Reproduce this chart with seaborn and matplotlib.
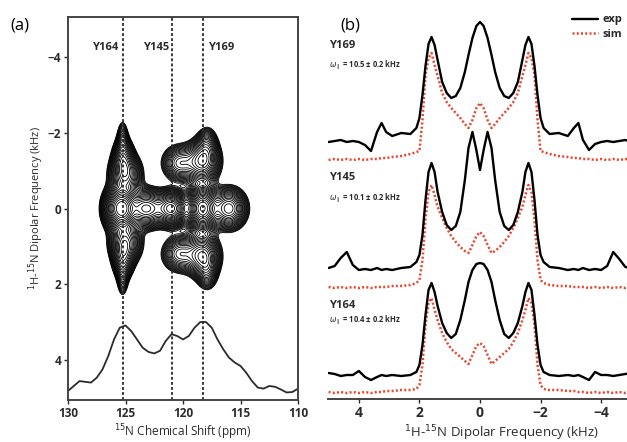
import numpy as np
import pandas as pd
import seaborn as sns
import matplotlib.pyplot as plt
from matplotlib.lines import Line2D

# ---------------- data ----------------

# (a) residue positions (ppm) and labels
residues = ['Y164', 'Y145', 'Y169']
res_ppm = [125.2, 121.0, 118.3]
label_ppm = [126.8, 122.3, 116.7]

# (a) contour peaks: ppm, kHz, amplitude, width ppm, width kHz
pk_ppm = [126.0, 125.2, 123.2, 121.0, 118.3, 116.0,
          125.0, 125.0, 125.2, 125.2, 125.25, 125.25,
          118.3, 118.3, 120.3, 120.3, 117.9, 117.9]
pk_khz = [0.0, 0.0, 0.0, 0.0, 0.0, 0.0,
          -0.9, 0.9, -1.35, 1.35, -1.85, 1.85,
          -1.25, 1.25, -1.2, 1.2, -1.7, 1.7]
pk_amp = [0.5, 1.0, 0.8, 0.9, 1.0, 0.65,
          0.5, 0.5, 0.35, 0.35, 0.15, 0.15,
          0.6, 0.6, 0.38, 0.38, 0.22, 0.22]
pk_wppm = [0.6, 0.6, 0.9, 0.7, 0.7, 0.8,
           0.75, 0.75, 0.5, 0.5, 0.28, 0.28,
           0.8, 0.8, 0.8, 0.8, 0.5, 0.5]
pk_wkhz = [0.3, 0.3, 0.26, 0.24, 0.3, 0.28,
           0.3, 0.3, 0.3, 0.3, 0.28, 0.28,
           0.3, 0.3, 0.25, 0.25, 0.25, 0.25]

# (a) 15N projection drawn under the contours (y in kHz axis units)
proj_ppm = [130, 129.5, 129, 128.5, 128, 127.5, 127, 126.5, 126, 125.5, 125,
            124.5, 124, 123.5, 123, 122.5, 122, 121.5, 121, 120.5, 120,
            119.5, 119, 118.5, 118, 117.5, 117, 116.5, 116, 115.5, 115,
            114.5, 114, 113.5, 113, 112.5, 112, 111.5, 111, 110.5, 110]
proj_val = [4.82, 4.69, 4.56, 4.58, 4.60, 4.47, 4.25, 3.90, 3.46, 3.15, 3.09,
            3.24, 3.46, 3.68, 3.79, 3.83, 3.76, 3.50, 3.32, 3.37, 3.46,
            3.37, 3.15, 3.00, 3.00, 3.15, 3.46, 3.72, 3.94, 4.07, 4.16,
            4.34, 4.56, 4.73, 4.76, 4.69, 4.71, 4.78, 4.86, 4.85, 4.76]

# (b) dipolar slices
khz = [5.0, 4.8, 4.6, 4.4, 4.2, 4.0, 3.8, 3.6, 3.4, 3.25, 3.1, 2.9, 2.6, 2.3,
       2.1, 2.0, 1.9, 1.8, 1.7, 1.6, 1.5, 1.4, 1.25, 1.1, 0.95, 0.8, 0.65,
       0.5, 0.38, 0.25, 0.12, 0.0, -0.12, -0.25, -0.38, -0.5, -0.65, -0.8,
       -0.95, -1.1, -1.25, -1.4, -1.5, -1.6, -1.7, -1.8, -1.9, -2.0, -2.1,
       -2.3, -2.6, -2.9, -3.1, -3.25, -3.4, -3.6, -3.8, -4.0, -4.2, -4.4,
       -4.6, -4.8, -5.0]

y169_exp = [0, 1, 2, 0, 1, 0, -3, -9, 10, 19, 10, 6, 9, 8, 14, 24, 47, 76, 98,
            105, 97, 82, 60, 49, 44, 46, 54, 70, 87, 104, 116, 120,
            116, 104, 87, 70, 54, 46, 44, 49, 60, 82, 97, 105, 98, 76, 47, 24,
            14, 8, 9, 6, 14, 19, 2, -8, -2, 0, 1, 0, 1, 2, 0]
y169_sim = [0, 1, 0, 1, 0, 1, 0, 1, 1, 2, 2, 3, 4, 6, 8, 9, 40, 85, 102, 107,
            95, 84, 67, 58, 52, 47, 42, 36, 32, 40, 52, 57,
            52, 40, 32, 36, 42, 47, 52, 58, 67, 84, 95, 107, 102, 85, 40, 9,
            8, 6, 4, 3, 2, 2, 1, 1, 0, 1, 0, 1, 0, 1, 0]
y145_exp = [1, 3, 11, 17, 4, -1, 0, -1, 1, -1, 0, -1, 1, 2, 7, 14, 34, 69, 97,
            106, 97, 77, 57, 44, 39, 43, 57, 89, 121, 137, 119, 99,
            119, 137, 121, 89, 57, 43, 39, 44, 57, 77, 97, 106, 97, 69, 34,
            14, 7, 2, 1, -1, 0, -1, 1, -1, 0, -1, 3, 17, 10, 2, 1]
y145_sim = [1, 0, 1, 0, 1, 0, 1, 0, 1, 1, 1, 2, 2, 3, 5, 8, 28, 68, 96, 103,
            93, 81, 70, 60, 52, 46, 41, 37, 35, 43, 52, 56,
            52, 43, 35, 37, 41, 46, 52, 60, 70, 81, 93, 103, 96, 68, 28, 8,
            5, 3, 2, 2, 1, 1, 1, 0, 1, 0, 1, 0, 1, 0, 1]
y164_exp = [2, 1, -1, 0, 0, 4, -2, -5, -2, 0, -1, 0, -1, 0, 3, 10, 30, 60, 85,
            92, 83, 69, 52, 42, 37, 41, 55, 75, 93, 105, 111, 112,
            111, 105, 93, 75, 55, 41, 37, 42, 52, 69, 83, 92, 85, 60, 30, 10,
            3, 0, -1, 0, -1, 0, -2, -5, 3, 0, 0, -1, 0, 1, 2]
y164_sim = [1, 0, 1, 0, 1, 0, 1, 0, 1, 1, 2, 2, 3, 3, 4, 8, 28, 68, 90, 95,
            83, 73, 60, 51, 44, 40, 36, 32, 29, 38, 47, 50,
            47, 38, 29, 32, 36, 40, 44, 51, 60, 73, 83, 95, 90, 68, 28, 8,
            4, 3, 3, 2, 2, 1, 1, 0, 1, 0, 1, 0, 1, 0, 1]

omega = ['10.5', '10.1', '10.4']

# ---------------- style ----------------
sns.set_style('ticks')
plt.rcParams['font.family'] = ['Open Sans', 'DejaVu Sans']
plt.rcParams['mathtext.fontset'] = 'dejavusans'
ink = '#2b2b2b'
red = '#e8452c'

fig = plt.figure(figsize=(6.27, 4.42), dpi=100)

# ---------------- (a) PISEMA contour ----------------
ax1 = fig.add_axes([68 / 627, 42 / 442, 230 / 627, 383 / 442])

P, K = np.meshgrid(np.linspace(131, 109, 440), np.linspace(-5.2, 5.2, 320))
Z = np.zeros_like(P)
for p0, k0, a, sp, sk in zip(pk_ppm, pk_khz, pk_amp, pk_wppm, pk_wkhz):
    Z += a * np.exp(-((P - p0) ** 2) / (2 * sp ** 2) - ((K - k0) ** 2) / (2 * sk ** 2))

levels = np.geomspace(0.05, 1.1, 26)
ax1.contour(P, K, Z, levels=levels, colors='black', linewidths=0.6)

sns.lineplot(x=proj_ppm, y=proj_val, ax=ax1, color=ink, linewidth=1.3, sort=False)

for p, lp, name in zip(res_ppm, label_ppm, residues):
    ax1.axvline(p, color=ink, linestyle=(0, (1.6, 1.2)), linewidth=1.3)
    ax1.text(lp, -4.25, name, ha='center', va='center', fontsize=8,
             fontweight='bold', color=ink)

ax1.set_xlim(130, 110)
ax1.set_ylim(5.06, -5.06)
ax1.set_xticks([130, 125, 120, 115, 110])
ax1.set_yticks([-4, -2, 0, 2, 4])
ax1.tick_params(labelsize=8.5, colors=ink, length=3, width=1, pad=2)
for t in ax1.get_xticklabels() + ax1.get_yticklabels():
    t.set_fontweight('bold')
for s in ax1.spines.values():
    s.set_color('#444444')
    s.set_linewidth(1.4)
ax1.set_xlabel('$^{15}$N Chemical Shift (ppm)', fontsize=8.5, color=ink, labelpad=2)
ax1.set_ylabel('$^{1}$H-$^{15}$N Dipolar Frequency (kHz)', fontsize=8, color=ink,
               labelpad=1)

# ---------------- (b) dipolar slices ----------------
ax2 = fig.add_axes([328 / 627, 43 / 442, 304 / 627, 399 / 442])

exp_sets = [y169_exp, y145_exp, y164_exp]
sim_sets = [y169_sim, y145_sim, y164_sim]
exp_base = [257, 130, 24]
sim_base = [239, 111, 6]
label_h = [354, 221, 94]

for i in range(3):
    sns.lineplot(x=khz, y=np.array(sim_sets[i]) + sim_base[i], ax=ax2, color=red,
                 linestyle=(0, (0.8, 0.9)), linewidth=1.8, sort=False)
    sns.lineplot(x=khz, y=np.array(exp_sets[i]) + exp_base[i], ax=ax2, color='black',
                 linewidth=1.7, sort=False)
    ax2.text(4.98, label_h[i], residues[::-1][i], fontsize=8, fontweight='bold',
             color=ink, ha='left', va='center')
    ax2.text(4.98, label_h[i] - 20 if i < 2 else label_h[i] - 15,
             r'$\omega_{\parallel}$ = ' + omega[i] + ' ± 0.2 kHz',
             fontsize=5.5, fontweight='bold', color=ink, ha='left', va='center')

ax2.set_xlim(5.02, -5.02)
ax2.set_ylim(0, 399)
ax2.set_xticks([4, 2, 0, -2, -4])
ax2.set_yticks([])
ax2.tick_params(labelsize=10, colors=ink, length=3, width=1, pad=2)
for t in ax2.get_xticklabels():
    t.set_fontweight('bold')
sns.despine(ax=ax2, left=True, top=True, right=True)
ax2.spines['bottom'].set_color('#444444')
ax2.spines['bottom'].set_linewidth(1.4)
ax2.set_xlabel('$^{1}$H-$^{15}$N Dipolar Frequency (kHz)', fontsize=9.5,
               color=ink, labelpad=3)
ax2.xaxis.set_label_coords(0.57, -0.06)

handles = [Line2D([], [], color='black', linewidth=1.7),
           Line2D([], [], color=red, linestyle=(0, (0.8, 0.9)), linewidth=1.8)]
ax2.legend(handles, ['exp', 'sim'], loc='upper left', frameon=False,
           bbox_to_anchor=(568 / 627, 1 - 10 / 442), bbox_transform=fig.transFigure,
           handlelength=2.3, labelspacing=0.35, borderaxespad=0,
           handletextpad=0.4, prop={'weight': 'bold', 'size': 8})

fig.text(10 / 627, 1 - 26 / 442, '(a)', fontsize=12, color='black', va='center')
fig.text(340 / 627, 1 - 26 / 442, '(b)', fontsize=12, color='black', va='center')

fig.savefig('out.png', dpi=100)
